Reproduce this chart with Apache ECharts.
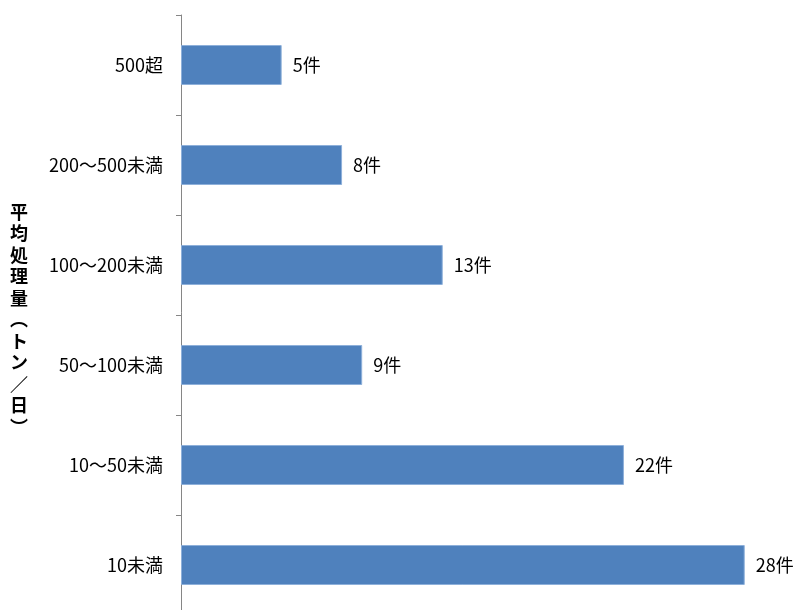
<!DOCTYPE html>
<html><head><meta charset="utf-8">
<script src="https://cdn.jsdelivr.net/npm/echarts@6/dist/echarts.min.js"></script>
<style>html,body{margin:0;padding:0;background:#fff}#c{width:798px;height:610px}</style>
</head><body><div id="c"></div>
<script>
// 平均処理量の区分と施設件数
const categories = ['10未満', '10～50未満', '50～100未満', '100～200未満', '200～500未満', '500超'];
const counts = [28, 22, 9, 13, 8, 5];
const axisTitle = '平均処理量︵トン／日︶';

const FONT = '"Noto Sans CJK JP", "Noto Sans", sans-serif';
const chart = echarts.init(document.getElementById('c'));
chart.setOption({
  animation: false,
  grid: { left: 181, right: 13, top: 15, height: 600, containLabel: false, outerBoundsMode: 'none' },
  xAxis: {
    type: 'value', min: 0, max: 30,
    show: false
  },
  yAxis: {
    type: 'category', data: categories,
    axisLine: { show: true, lineStyle: { color: '#868686', width: 1 } },
    axisTick: { show: true, length: 5, lineStyle: { color: '#868686' } },
    axisLabel: { color: '#000', fontSize: 18, fontFamily: FONT, margin: 18 }
  },
  series: [{
    type: 'bar', data: counts, barWidth: 40,
    itemStyle: { color: '#4F81BD', borderColor: '#8EB0DA', borderWidth: 1 },
    label: {
      show: true, position: 'right', distance: 11,
      color: '#000', fontSize: 18, fontFamily: FONT,
      formatter: p => p.value + '件'
    }
  }],
  graphic: [{
    type: 'text', left: 10, top: 201,
    style: {
      text: axisTitle.split('').join('\n'),
      fontSize: 18, fontWeight: 'bold', fontFamily: FONT,
      lineHeight: 21.5, fill: '#000', align: 'center'
    }
  }]
});
</script></body></html>
